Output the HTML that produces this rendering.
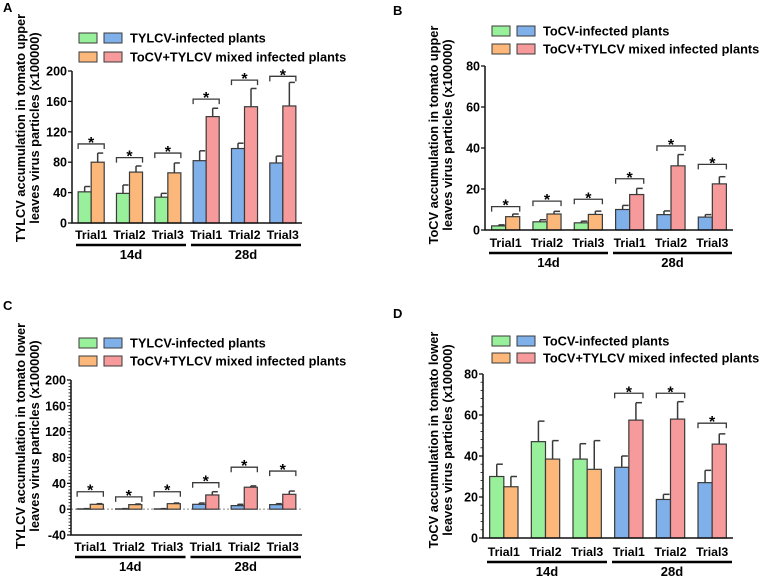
<!DOCTYPE html>
<html><head><meta charset="utf-8">
<style>
body{margin:0;background:#fff;}
svg{display:block;font-family:"Liberation Sans",Arial,sans-serif;font-weight:bold;}
</style></head>
<body>
<svg id="fig" width="773" height="578" viewBox="0 0 773 578"></svg>
<script>
// Shared categories
const trials = ["Trial1","Trial2","Trial3","Trial1","Trial2","Trial3"];
const timeGroups = ["14d","28d"];

// Panel A data
const aCtrl = [41,39,34,82,98,79];
const aCtrlErr = [7,11,5,13,7,9];
const aMix = [80,67,66,140,153,154];
const aMixErr = [12,8,13,11,24,31];
const aSig = [104,86,92,163,188,193];
const aTicks = [0,40,80,120,160,200];

// Panel B data
const bCtrl = [2,4,3.5,10,7.5,6.3];
const bCtrlErr = [0.5,1,0.8,2,1.8,1.2];
const bMix = [6.5,7.8,7.6,17.3,31.3,22.5];
const bMixErr = [1.3,1.3,1.6,3,5.5,3.5];
const bSig = [11.4,14.1,15,25,41,32];
const bTicks = [0,20,40,60,80];

// Panel C data
const cCtrl = [0.5,0.5,0.5,7.5,5.5,7];
const cCtrlErr = [0.3,0.3,0.3,2,2,1.5];
const cMix = [7.5,7,8.5,22,34,23];
const cMixErr = [1,1,1,5,2,5];
const cSig = [27,19,27,41,65,59];
const cTicks = [-40,0,40,80,120,160,200];

// Panel D data
const dCtrl = [30,47,38.5,34.5,18.8,27];
const dCtrlErr = [6,10,7.5,5.5,2.5,6];
const dMix = [25,38.5,33.5,57.5,58,45.8];
const dMixErr = [5,9,14,8.5,8.5,5];
const dSig = [null,null,null,70.6,70.6,56];
const dTicks = [0,20,40,60,80];

const NS="http://www.w3.org/2000/svg";
const svg=document.getElementById('fig');
function mk(tag,attrs,parent){const e=document.createElementNS(NS,tag);for(const k in attrs)e.setAttribute(k,attrs[k]);(parent||svg).appendChild(e);return e;}

const GREEN="#99f09b",ORANGE="#fbb87a",BLUE="#7fb0ea",PINK="#f79a9b",EDGE="#3a3a3a";

function panel(cfg){
  const g=mk('g',{});
  
  
  const y=v=>cfg.y0+(v-cfg.vmin)/(cfg.vmax-cfg.vmin)*(cfg.yTop-cfg.y0);
  const step=(cfg.xEnd-cfg.xStart)/6;
  const cx=i=>cfg.xStart+step*(i+0.5);
  const bw=step*0.34;
  const L=mk('text',{x:cfg.lx,y:cfg.ly,'font-size':13},g);L.textContent=cfg.letter;
  
  const yl=mk('text',{transform:`translate(${cfg.ylx},${cfg.yly}) rotate(-90)`,'text-anchor':'middle','font-size':12.8},g);
  
  const t1=mk('tspan',{x:0,dy:0},yl);t1.textContent=cfg.ylab[0];
  const t2=mk('tspan',{x:0,dy:14},yl);t2.textContent=cfg.ylab[1];
  const leg=[[GREEN,BLUE,cfg.leg[0]],[ORANGE,PINK,cfg.leg[1]]];
  leg.forEach((r,k)=>{
    const ry=cfg.legY[k];
    const b1=mk('rect',{x:cfg.legX,y:ry-5,width:18,height:10,fill:r[0],stroke:EDGE,'stroke-width':1},g);
    
    const b2=mk('rect',{x:cfg.legX+25,y:ry-5,width:18,height:10,fill:r[1],stroke:EDGE,'stroke-width':1},g);
    
    const tx=mk('text',{x:cfg.legX+51,y:ry+4.5,'font-size':12.8},g);tx.textContent=r[2];
    
  });
  if(cfg.vmin<0){
    const zl=mk('line',{x1:cfg.xStart,x2:cfg.xEnd,y1:y(0),y2:y(0),stroke:'#888','stroke-dasharray':'2,2','stroke-width':1},g);
    
  }
  for(let i=0;i<6;i++){
    const base=Math.max(cfg.vmin,0);
    const cc=i<3?GREEN:BLUE, mc=i<3?ORANGE:PINK;
    [[cfg.ctrl[i],cfg.ctrlErr[i],cc,cx(i)-bw,'bar-single'],[cfg.mix[i],cfg.mixErr[i],mc,cx(i),'bar-mixed']].forEach(d=>{
      const top=y(d[0]),bot=y(base);
      const et=y(d[0]+d[1]);
      const el=mk('line',{x1:d[3]+bw/2,x2:d[3]+bw/2,y1:top,y2:et,stroke:EDGE,'stroke-width':1.5},g);
      
      const ec=mk('line',{x1:d[3]+bw/2,x2:d[3]+bw-1,y1:et,y2:et,stroke:EDGE,'stroke-width':1.5},g);
      
      const r=mk('rect',{x:d[3],y:Math.min(top,bot),width:bw,height:Math.abs(bot-top),fill:d[2],stroke:EDGE,'stroke-width':1.2},g);
      
    });
    const s=cfg.sig[i];
    if(s!==null&&s!==undefined){
      const sy=y(s);
      const br=mk('path',{d:`M${cx(i)-bw},${sy+5}V${sy}H${cx(i)+bw}V${sy+5}`,fill:'none',stroke:EDGE,'stroke-width':1.3},g);
      
      const st=mk('text',{x:cx(i),y:sy+4,'text-anchor':'middle','font-size':16},g);st.textContent='*';
      
    }
    const tl=mk('text',{x:cx(i),y:cfg.trialY,'text-anchor':'middle','font-size':12.3},g);tl.textContent=trials[i];
    
  }
  const ax=mk('path',{d:`M${cfg.xStart},${y(cfg.vmax)}V${y(cfg.vmin)}H${cfg.xEnd}`,fill:'none',stroke:'#111','stroke-width':1.5},g);
  
  cfg.ticks.forEach(v=>{
    mk('line',{x1:cfg.xStart-4,x2:cfg.xStart,y1:y(v),y2:y(v),stroke:'#111','stroke-width':1.3},g);
    const t=mk('text',{x:cfg.xStart-5,y:y(v)+4.5,'text-anchor':'end','font-size':12.5},g);t.textContent=v;
    
  });
  if(cfg.minor){
    for(let v=cfg.vmin;v<=cfg.vmax;v+=cfg.minor){
      mk('line',{x1:cfg.xStart-2.5,x2:cfg.xStart,y1:y(v),y2:y(v),stroke:'#111','stroke-width':0.8},g);
    }
  }
  [[0,2],[3,5]].forEach((p,k)=>{
    const x1=cx(p[0])-step/2+4,x2=cx(p[1])+step/2-1;
    const ul=mk('line',{x1:x1,x2:x2,y1:cfg.ulY,y2:cfg.ulY,stroke:'#000','stroke-width':2.5},g);
    
    const gt=mk('text',{x:(x1+x2)/2,y:cfg.ulY+14,'text-anchor':'middle','font-size':13},g);gt.textContent=timeGroups[k];
    
  });
}

panel({letter:'A',lx:3,ly:12,ylx:25,yly:128,ylab:['TYLCV accumulation in tomato upper','leaves virus particles (x100000)'],
  leg:['TYLCV-infected plants','ToCV+TYLCV mixed infected plants'],legX:79,legY:[38,57],
  xStart:72,xEnd:302,yTop:71,y0:223,vmin:0,vmax:200,ticks:aTicks,minor:0,
  ctrl:aCtrl,ctrlErr:aCtrlErr,mix:aMix,mixErr:aMixErr,sig:aSig,trialY:239,ulY:245});
panel({letter:'B',lx:393,ly:15,ylx:438,yly:135,ylab:['ToCV accumulation in tomato upper','leaves virus particles (x100000)'],
  leg:['ToCV-infected plants','ToCV+TYLCV mixed infected plants'],legX:492,legY:[31,49],
  xStart:485,xEnd:733,yTop:66,y0:230,vmin:0,vmax:80,ticks:bTicks,minor:0,
  ctrl:bCtrl,ctrlErr:bCtrlErr,mix:bMix,mixErr:bMixErr,sig:bSig,trialY:247,ulY:253});
panel({letter:'C',lx:3,ly:310,ylx:25,yly:436,ylab:['TYLCV accumulation in tomato lower','leaves virus particles (x100000)'],
  leg:['TYLCV-infected plants','ToCV+TYLCV mixed infected plants'],legX:79,legY:[343,361],
  xStart:71,xEnd:302,yTop:380,y0:535,vmin:-40,vmax:200,ticks:cTicks,minor:5,
  ctrl:cCtrl,ctrlErr:cCtrlErr,mix:cMix,mixErr:cMixErr,sig:cSig,trialY:551,ulY:557});
panel({letter:'D',lx:393,ly:318,ylx:438,yly:440,ylab:['ToCV accumulation in tomato lower','leaves virus particles (x100000)'],
  leg:['ToCV-infected plants','ToCV+TYLCV mixed infected plants'],legX:492,legY:[341,358],
  xStart:483,xEnd:733,yTop:374,y0:538,vmin:0,vmax:80,ticks:dTicks,minor:4,
  ctrl:dCtrl,ctrlErr:dCtrlErr,mix:dMix,mixErr:dMixErr,sig:dSig,trialY:556,ulY:562});
</script>
</body></html>
